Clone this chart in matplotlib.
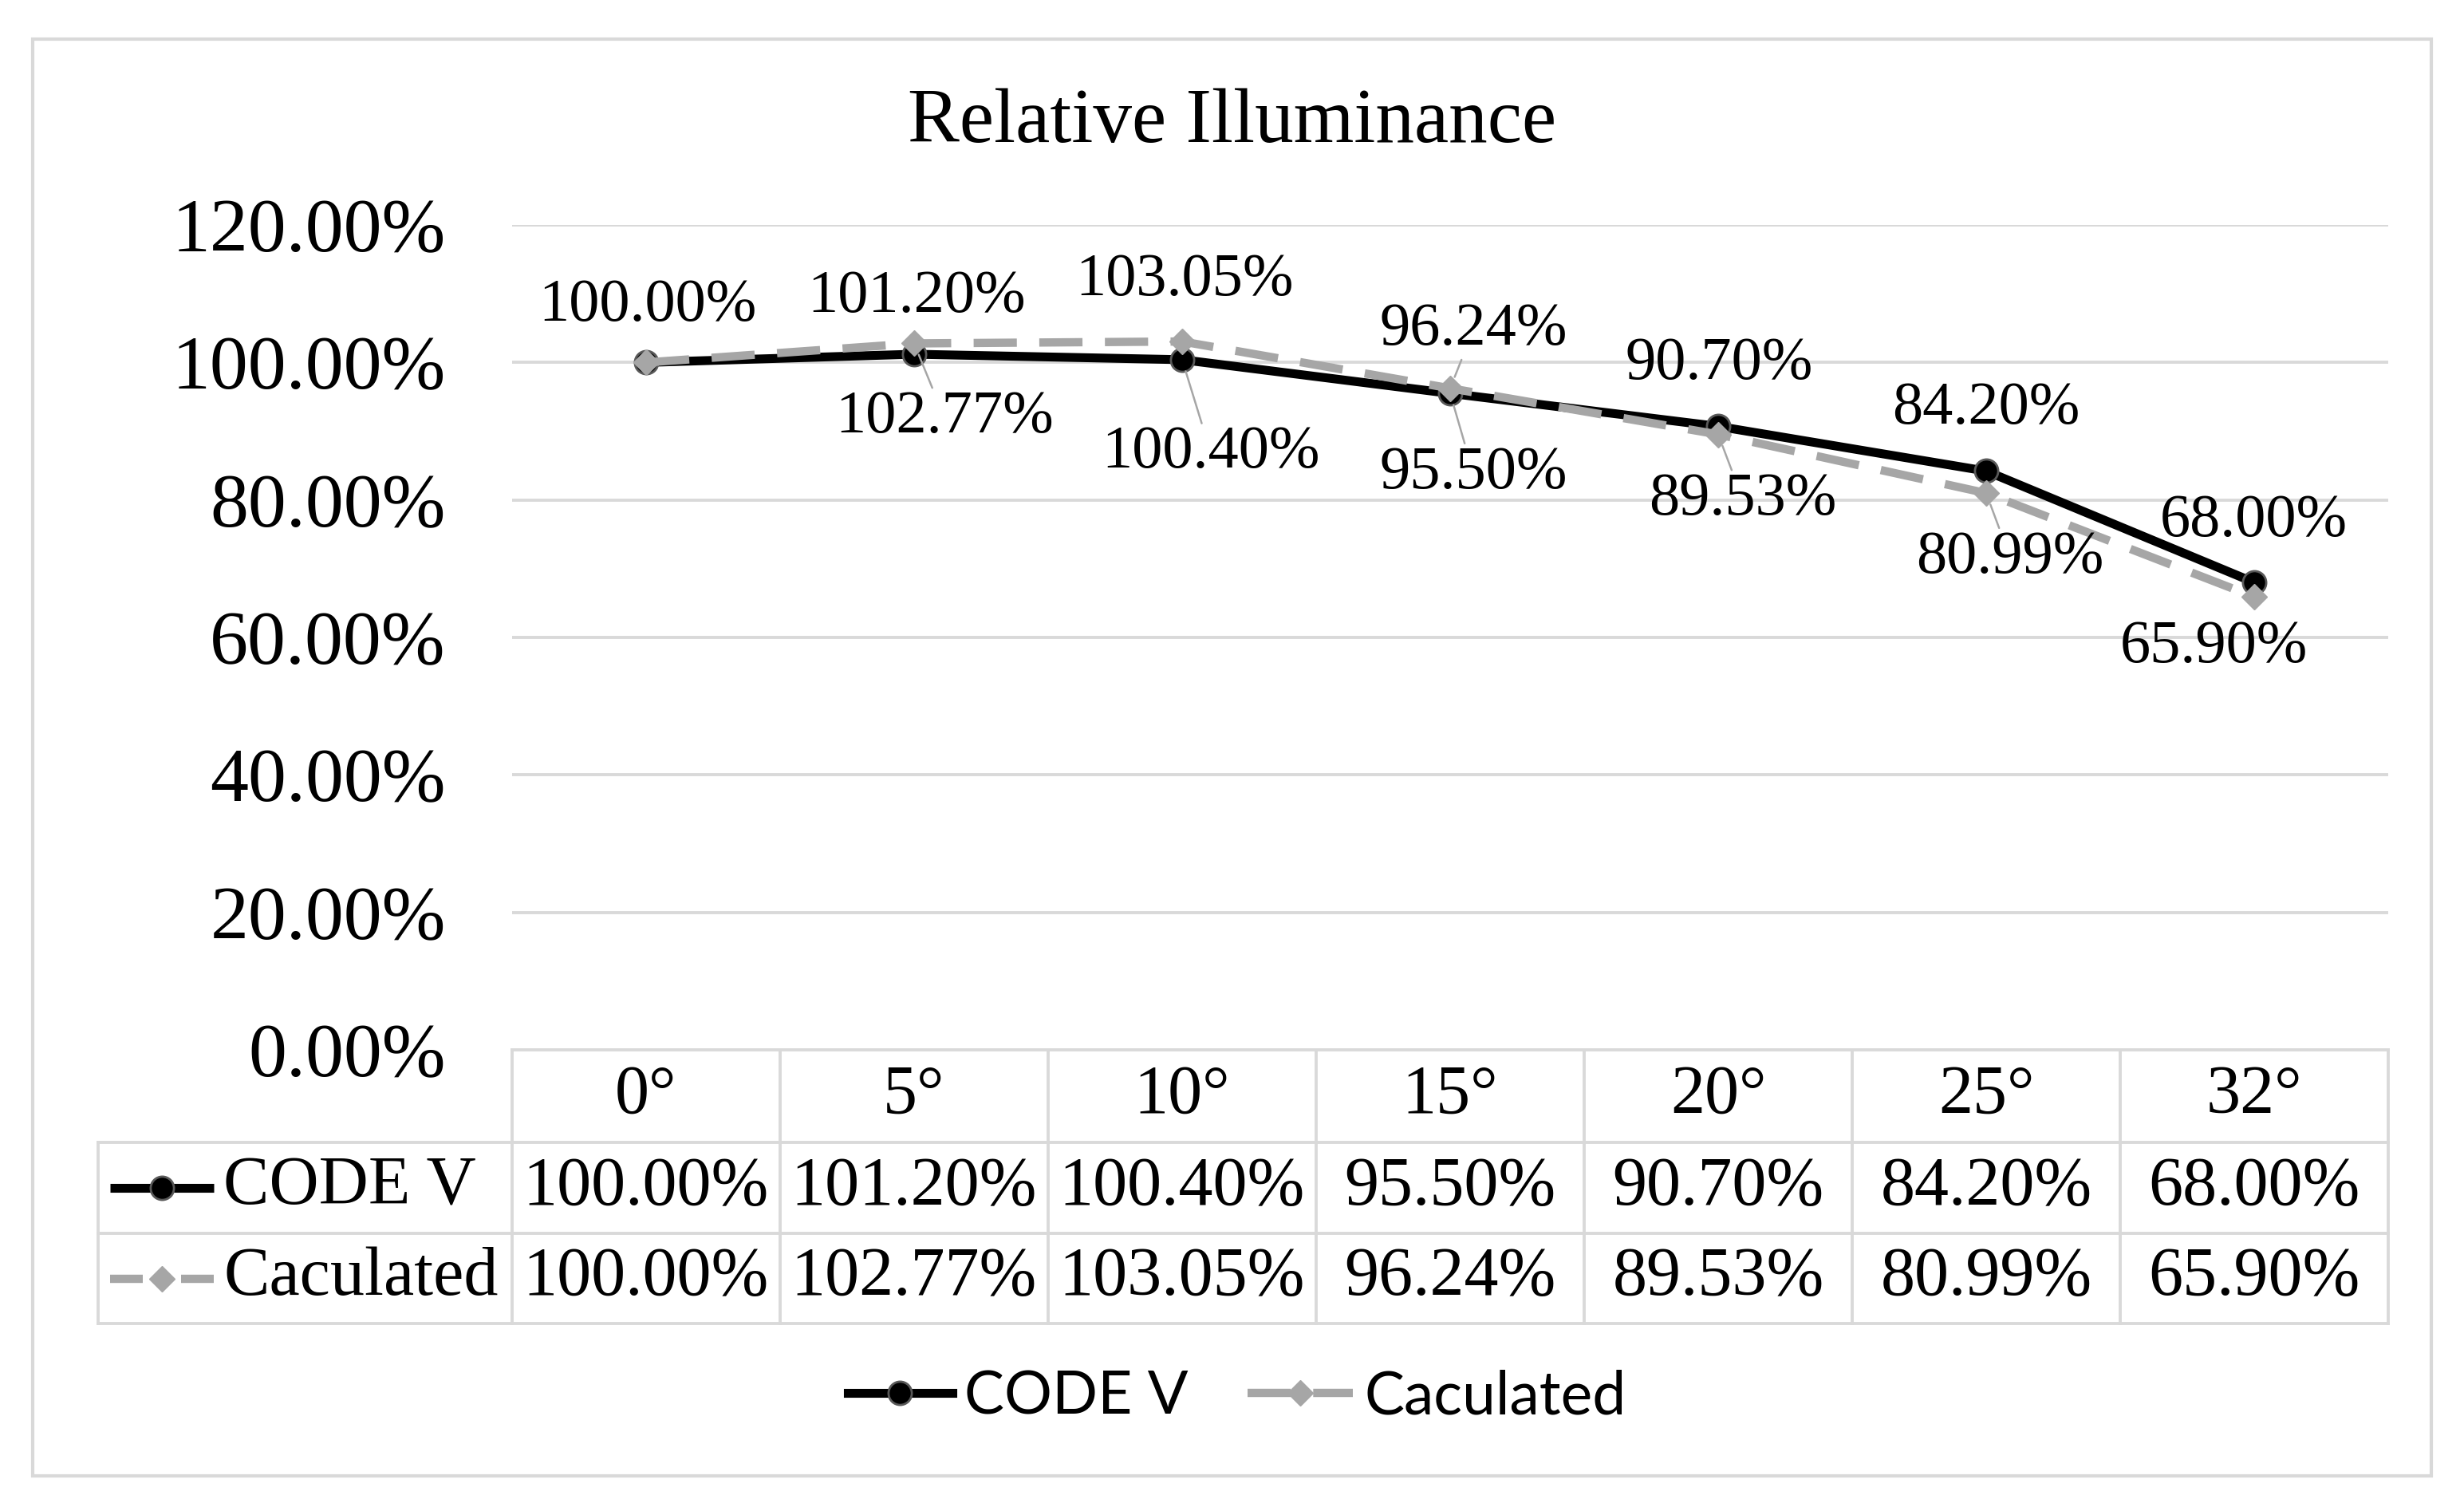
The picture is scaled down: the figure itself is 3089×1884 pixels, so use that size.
import matplotlib
matplotlib.use('Agg')
import matplotlib.pyplot as plt
from matplotlib.lines import Line2D
from matplotlib.patches import Rectangle

# ---------------- data ----------------
categories = ['0°', '5°', '10°', '15°', '20°', '25°', '32°']
code_v = [100.00, 101.20, 100.40, 95.50, 90.70, 84.20, 68.00]
calculated = [100.00, 102.77, 103.05, 96.24, 89.53, 80.99, 65.90]
series_names = ['CODE V', 'Caculated']
y_ticks = [0, 20, 40, 60, 80, 100, 120]
title = 'Relative Illuminance'

# ---------------- label layout (pixel offsets) ----------------
code_v_offsets = [(2, 71), (3, 71), (36, -117), (29, -100), (1, 78), (0, 78), (-1, 77)]
calc_offsets = [None, (38, -93), (3, 77), (29, 73), (31, -82), (30, -81), (-51, -63)]
code_v_leader = [False, False, True, True, False, False, False]
calc_leader = [False, True, False, True, True, True, False]

SERIF = 'Liberation Serif'
SANS = 'Lato'
GRID = '#D9D9D9'
GRAY = '#A6A6A6'
LW_BLACK, LW_GRAY = 8, 7.5
MS_O, MS_D = 21, 16

fig = plt.figure(figsize=(30.89, 18.84), dpi=100)
fig.patch.set_facecolor('white')

ax = fig.add_axes([0.20783, 0.30149, 0.76142, 0.54883])
x = list(range(len(categories)))
ax.set_xlim(-0.5, len(categories) - 0.5)
ax.set_ylim(0, 120)

l1, = ax.plot(x, code_v, color='black', lw=LW_BLACK, marker='o', ms=MS_O,
              mfc='black', mec='#595959', mew=2, zorder=3,
              solid_joinstyle='round', label=series_names[0])
l2, = ax.plot(x, calculated, color=GRAY, lw=LW_GRAY, ls=(0, (5.2, 2.7)), marker='D',
              ms=MS_D, mfc=GRAY, mec=GRAY, zorder=4, label=series_names[1])

ax.set_yticks(y_ticks)
ax.set_yticklabels([f"{v:.2f}%" for v in y_ticks], fontfamily=SERIF, fontsize=69)
ax.tick_params(axis='y', length=0, pad=60)
ax.set_xticks([])
for s in ax.spines.values():
    s.set_visible(False)
ax.grid(axis='y', color=GRID, lw=2.8, zorder=0)
ax.set_axisbelow(True)

# data labels
def add_labels(vals, offsets, leaders):
    for i, (v, off, lead) in enumerate(zip(vals, offsets, leaders)):
        if off is None:
            continue
        ap = dict(arrowstyle='-', color=GRAY, lw=1.8, shrinkA=0, shrinkB=11) if lead else None
        ax.annotate(f"{v:.2f}%", xy=(i, v), xytext=off, textcoords='offset pixels',
                    ha='center', va='center', fontsize=55, fontfamily=SERIF,
                    arrowprops=ap, zorder=6)

add_labels(code_v, code_v_offsets, code_v_leader)
add_labels(calculated, calc_offsets, calc_leader)

# ---------------- data table ----------------
tr = ax.get_xaxis_transform()
n = len(categories)
left_edge = -2.045
y_hdr_top, y_hdr_bot, y_r1_bot, y_r2_bot = 0.0, -0.1122, -0.2224, -0.3317
y_hdr_c, y_r1_c, y_r2_c = -0.0561, -0.1673, -0.2771
tl = dict(color=GRID, lw=2.8, transform=tr, clip_on=False, zorder=1)

ax.plot([-0.5, n - 0.5], [y_hdr_top, y_hdr_top], **tl)
for yy in (y_hdr_bot, y_r1_bot, y_r2_bot):
    ax.plot([left_edge, n - 0.5], [yy, yy], **tl)
for k in range(n + 1):
    ax.plot([k - 0.5, k - 0.5], [y_hdr_top, y_r2_bot], **tl)
ax.plot([left_edge, left_edge], [y_hdr_bot, y_r2_bot], **tl)

tkw = dict(transform=tr, ha='center', va='center', fontsize=62, fontfamily=SERIF, clip_on=False)
for i, c in enumerate(categories):
    ax.text(i, y_hdr_c, c, **tkw)
for i, v in enumerate(code_v):
    ax.text(i, y_r1_c, f"{v:.2f}%", **tkw)
for i, v in enumerate(calculated):
    ax.text(i, y_r2_c, f"{v:.2f}%", **tkw)

# row keys
kx0, kxm, kx1 = -2.0, -1.8065, -1.613
ax.plot([kx0, kx1], [y_r1_c, y_r1_c], color='black', lw=LW_BLACK, transform=tr, clip_on=False,
        solid_capstyle='butt')
ax.plot([kxm], [y_r1_c], marker='o', ms=MS_O, mfc='black', mec='#595959', mew=2,
        transform=tr, clip_on=False)
ax.plot([kx0, kxm - 0.07], [y_r2_c, y_r2_c], color=GRAY, lw=LW_GRAY, transform=tr, clip_on=False,
        solid_capstyle='butt')
ax.plot([kxm + 0.07, kx1], [y_r2_c, y_r2_c], color=GRAY, lw=LW_GRAY, transform=tr, clip_on=False,
        solid_capstyle='butt')
ax.plot([kxm], [y_r2_c], marker='D', ms=MS_D, mfc=GRAY, mec=GRAY, transform=tr, clip_on=False)
ax.text(-1.577, y_r1_c, series_names[0], transform=tr, ha='left', va='center',
        fontsize=62, fontfamily=SERIF, clip_on=False)
ax.text(-1.577, y_r2_c, series_names[1], transform=tr, ha='left', va='center',
        fontsize=62, fontfamily=SERIF, clip_on=False)

# ---------------- title, legend, border ----------------
fig.text(0.5, 0.9055, title, ha='center', va='baseline', fontsize=70, fontfamily=SERIF)

fig.legend(handles=[l1, l2], labels=series_names, loc='center',
           bbox_to_anchor=(0.502, 0.0706), ncol=2, frameon=False,
           prop={'family': SANS, 'size': 54}, handlelength=1.75,
           handletextpad=0.2, columnspacing=1.0, numpoints=1)

fig.add_artist(Rectangle((0.0133, 0.018), 0.9734, 0.956, transform=fig.transFigure,
                         fill=False, ec=GRID, lw=3))

fig.savefig('out.png', dpi=100, facecolor='white')
